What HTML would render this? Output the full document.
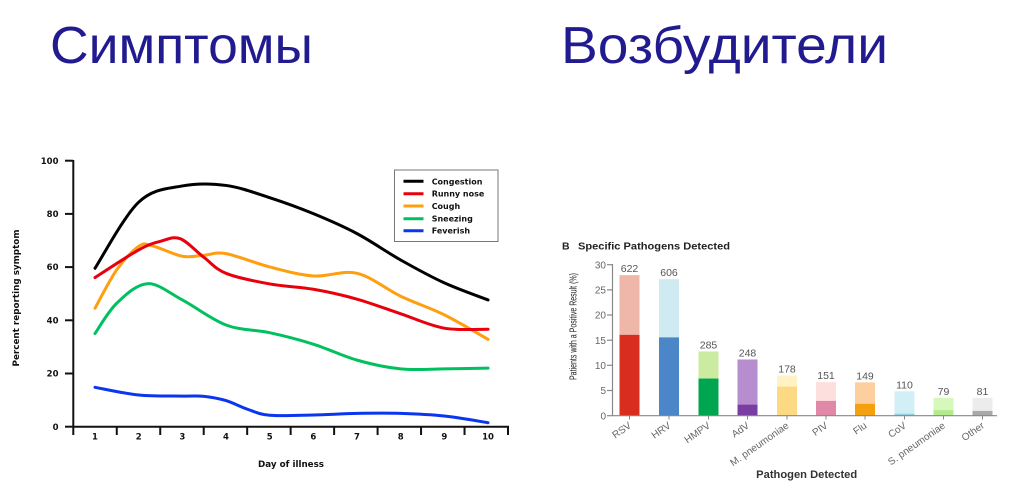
<!DOCTYPE html>
<html><head><meta charset="utf-8"><style>
html,body{margin:0;padding:0;background:#fff;}
svg{display:block;}
.bt{font-family:"DejaVu Sans","Liberation Sans",sans-serif;font-weight:bold;font-size:8.5px;fill:#111;}
.rt{font-family:"Liberation Sans",sans-serif;fill:#666;font-size:10px;}
</style></head><body>
<svg id="s" width="1024" height="495" viewBox="0 0 1024 495" xmlns="http://www.w3.org/2000/svg">
<rect width="1024" height="495" fill="#fff"/>
<text x="50" y="63" font-family="Liberation Sans, sans-serif" font-size="52" fill="#211b8f" textLength="263" lengthAdjust="spacingAndGlyphs">Симптомы</text>
<text x="561" y="63" font-family="Liberation Sans, sans-serif" font-size="52" fill="#211b8f" textLength="327" lengthAdjust="spacingAndGlyphs">Возбудители</text>

<!-- LEFT CHART -->
<g stroke="#111" stroke-width="2" fill="none">
<line x1="73.3" y1="160" x2="73.3" y2="427.5"/>
<line x1="72.3" y1="426.7" x2="509" y2="426.7"/>
<line x1="65" y1="160.7" x2="73" y2="160.7"/>
<line x1="65" y1="213.9" x2="73" y2="213.9"/>
<line x1="65" y1="267.1" x2="73" y2="267.1"/>
<line x1="65" y1="320.3" x2="73" y2="320.3"/>
<line x1="65" y1="373.5" x2="73" y2="373.5"/>
<line x1="65" y1="426.7" x2="73" y2="426.7"/>
<g id="xt"></g>
</g>
<g class="bt" text-anchor="end">
<text x="58.5" y="164">100</text>
<text x="58.5" y="217">80</text>
<text x="58.5" y="270">60</text>
<text x="58.5" y="323.5">40</text>
<text x="58.5" y="376.5">20</text>
<text x="58.5" y="430">0</text>
</g>
<g class="bt" text-anchor="middle">
<text x="95" y="439.5">1</text>
<text x="138.7" y="439.5">2</text>
<text x="182.3" y="439.5">3</text>
<text x="226" y="439.5">4</text>
<text x="269.7" y="439.5">5</text>
<text x="313.3" y="439.5">6</text>
<text x="357" y="439.5">7</text>
<text x="400.7" y="439.5">8</text>
<text x="444.3" y="439.5">9</text>
<text x="488" y="439.5">10</text>
<text x="291" y="467" textLength="66" lengthAdjust="spacingAndGlyphs">Day of illness</text>
<text transform="translate(19,298) rotate(-90)" x="0" y="0" textLength="137" lengthAdjust="spacingAndGlyphs">Percent reporting symptom</text>
</g>
<g id="curves" fill="none" stroke-width="3" stroke-linecap="round"></g>
<!-- legend -->
<rect x="394.5" y="170" width="103.5" height="71.5" fill="#fff" stroke="#777" stroke-width="1"/>
<g stroke-width="3">
<line x1="403.5" y1="181.3" x2="423.5" y2="181.3" stroke="#000"/>
<line x1="403.5" y1="193.7" x2="423.5" y2="193.7" stroke="#e8000b"/>
<line x1="403.5" y1="206" x2="423.5" y2="206" stroke="#ff9f10"/>
<line x1="403.5" y1="218.7" x2="423.5" y2="218.7" stroke="#00c060"/>
<line x1="403.5" y1="230.7" x2="423.5" y2="230.7" stroke="#0a36f0"/>
</g>
<g class="bt" style="font-size:8px">
<text x="431.7" y="184.3">Congestion</text>
<text x="431.7" y="196.7">Runny nose</text>
<text x="431.7" y="209">Cough</text>
<text x="431.7" y="221.7">Sneezing</text>
<text x="431.7" y="233.7">Feverish</text>
</g>

<!-- RIGHT CHART -->
<text x="562" y="249.5" font-family="Liberation Sans, sans-serif" font-weight="bold" font-size="10.5" fill="#222">B</text>
<text x="578" y="249.5" font-family="Liberation Sans, sans-serif" font-weight="bold" font-size="10.5" fill="#222" textLength="152" lengthAdjust="spacingAndGlyphs">Specific Pathogens Detected</text>
<g id="bars"></g>
<g stroke="#888" stroke-width="1.2" fill="none">
<line x1="612.5" y1="264" x2="612.5" y2="416"/>
<line x1="612" y1="415.7" x2="997" y2="415.7"/>
<line x1="607" y1="264.7" x2="612.5" y2="264.7"/>
<line x1="607" y1="289.9" x2="612.5" y2="289.9"/>
<line x1="607" y1="315.0" x2="612.5" y2="315.0"/>
<line x1="607" y1="340.2" x2="612.5" y2="340.2"/>
<line x1="607" y1="365.3" x2="612.5" y2="365.3"/>
<line x1="607" y1="390.5" x2="612.5" y2="390.5"/>
<line x1="607" y1="415.7" x2="612.5" y2="415.7"/>
</g>
<g class="rt" text-anchor="end">
<text x="606" y="268.5">30</text>
<text x="606" y="293.5">25</text>
<text x="606" y="318.7">20</text>
<text x="606" y="343.9">15</text>
<text x="606" y="369">10</text>
<text x="606" y="394.2">5</text>
<text x="606" y="419.4">0</text>
</g>
<text transform="translate(576.5,326.5) rotate(-90)" text-anchor="middle" font-family="Liberation Sans, sans-serif" font-size="10.5" fill="#222" textLength="107" lengthAdjust="spacingAndGlyphs">Patients with a Positive Result (%)</text>
<text x="806.7" y="478" text-anchor="middle" font-family="Liberation Sans, sans-serif" font-weight="bold" font-size="11" fill="#333" textLength="101" lengthAdjust="spacingAndGlyphs">Pathogen Detected</text>
<g id="xl"></g>
</svg>
<script>
(function(){
var NS="http://www.w3.org/2000/svg";
function el(t,a,p,txt){var e=document.createElementNS(NS,t);for(var k in a)e.setAttribute(k,a[k]);if(txt!==undefined)e.textContent=txt;p.appendChild(e);return e;}
var xt=document.getElementById('xt');
for(var k=0;k<=10;k++){var x=73.3+k*43.47;el('line',{x1:x,y1:426.7,x2:x,y2:435},xt);}
function X(d){return 95+(d-1)*43.67;}
function Y(v){return 426.7-v*2.663;}
function cr(pts){
 var P=pts.map(function(p){return [X(p[0]),Y(p[1])];});
 var d="M"+P[0][0].toFixed(2)+","+P[0][1].toFixed(2);
 for(var i=0;i<P.length-1;i++){
  var p0=P[i-1]||P[i],p1=P[i],p2=P[i+1],p3=P[i+2]||P[i+1];
  var c1=[p1[0]+(p2[0]-p0[0])/6,p1[1]+(p2[1]-p0[1])/6];
  var c2=[p2[0]-(p3[0]-p1[0])/6,p2[1]-(p3[1]-p1[1])/6];
  d+=" C"+c1[0].toFixed(2)+","+c1[1].toFixed(2)+" "+c2[0].toFixed(2)+","+c2[1].toFixed(2)+" "+p2[0].toFixed(2)+","+p2[1].toFixed(2);
 }
 return d;
}
var series=[
 ["#0a36f0",[[1,14.8],[2,11.9],[3,11.5],[3.5,11.4],[4,9.8],[4.5,6.5],[5,4.3],[6,4.4],[7,5],[8,5],[9,4],[10,1.5]]],
 ["#00c060",[[1,35],[1.5,46.4],[2.2,53.7],[3,47.6],[4,38.2],[5,35.3],[6,31],[7,25],[8,21.7],[9,21.7],[10,22]]],
 ["#ff9f10",[[1,44.5],[1.5,59],[2,67.7],[2.3,68],[3,64],[3.5,64.4],[4,65],[5,60],[6,56.6],[7,57.6],[8,49],[9,42],[10,32.8]]],
 ["#e8000b",[[1,56],[2,66.4],[2.5,69.6],[2.95,70.6],[3.5,63.5],[4,57.6],[5,53.6],[6,51.6],[7,47.9],[8,42.4],[9,37],[10,36.6]]],
 ["#000000",[[1,59.5],[2,84.3],[3,90.4],[4,90.6],[5,86],[6,80],[7,72.5],[8,62.6],[9,54],[10,47.6]]]
];
var cg=document.getElementById('curves');
series.forEach(function(s){el('path',{d:cr(s[1]),stroke:s[0]},cg);});
var bars=[
 ["RSV",28.0,16.1,"#efb6aa","#d92e1f","622"],
 ["HRV",27.2,15.6,"#cfeaf0","#4a86c8","606"],
 ["HMPV",12.8,7.4,"#cbeca0","#00a64f","285"],
 ["AdV",11.2,2.2,"#b68ecf","#7a3ea2","248"],
 ["M. pneumoniae",8.0,5.8,"#fff3c6","#fdd983","178"],
 ["PIV",6.7,2.95,"#fde0de","#e088a8","151"],
 ["Flu",6.65,2.35,"#fdcf9f","#f5a00f","149"],
 ["CoV",4.85,0.4,"#d3eff6","#92d4e2","110"],
 ["S. pneumoniae",3.55,1.1,"#d7f8bb","#b4ea8e","79"],
 ["Other",3.55,0.95,"#ececec","#a9a9a9","81"]
];
var lefts=[619.5,659,698.5,737.5,777,816,855,894.5,933.5,972.5];
var bg=document.getElementById('bars'),xl=document.getElementById('xl');
var base=415.7,sc=5.02;
bars.forEach(function(b,i){
 var x=lefts[i],w=20,ht=b[1]*sc,hd=b[2]*sc;
 el('rect',{x:x,y:base-ht,width:w,height:ht,fill:b[3]},bg);
 el('rect',{x:x,y:base-hd,width:w,height:hd,fill:b[4]},bg);
 el('text',{x:x+w/2,y:base-ht-3,'text-anchor':'middle','font-family':'Liberation Sans, sans-serif','font-size':'10.5',fill:'#555'},bg,b[5]);
 var cx=x+w/2;
 el('line',{x1:cx,y1:415.7,x2:cx,y2:419.5,stroke:'#888','stroke-width':1},bg);
 el('text',{transform:'translate('+(cx+2.5)+',427) rotate(-35)','text-anchor':'end','font-family':'Liberation Sans, sans-serif','font-size':'10',fill:'#666'},xl,b[0]);
});
})();
</script>
</body></html>
